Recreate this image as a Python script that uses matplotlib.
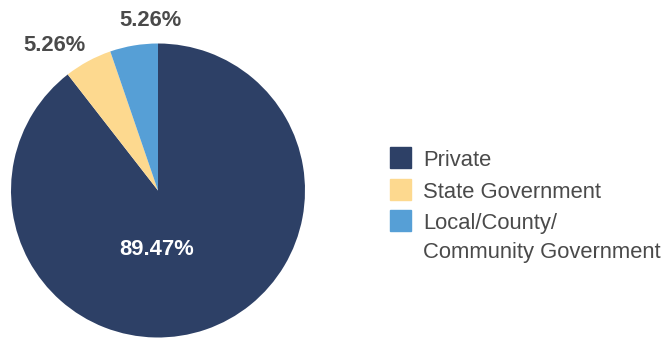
import numpy as np
import matplotlib.pyplot as plt
from matplotlib.patches import Rectangle

plt.rcParams['font.family'] = ['Liberation Sans', 'DejaVu Sans']

# ownership share of facilities
categories = ["Private", "State Government", "Local/County/\nCommunity Government"]
shares = [89.47, 5.26, 5.26]
colors = ["#2d4066", "#fdd98f", "#569fd6"]
text_gray = "#4a4a4a"

fig = plt.figure(figsize=(6.66, 3.39), dpi=100)
ax = fig.add_axes([11 / 666, (339 - 190.5 - 147) / 339, 294 / 666, 294 / 339])

wedges, _ = ax.pie(shares, colors=colors, startangle=90, counterclock=False,
                   radius=1.0, wedgeprops=dict(linewidth=0))
ax.set_xlim(-1, 1)
ax.set_ylim(-1, 1)
ax.set_aspect("equal")
ax.axis("off")

# label placement (angle in degrees, distance from centre) for each slice
label_pos = [(269.0, 0.40), (125.6, 1.21), (92.4, 1.155)]
label_col = ["white", text_gray, text_gray]
for val, (ang, dist), col in zip(shares, label_pos, label_col):
    a = np.deg2rad(ang)
    ax.text(dist * np.cos(a), dist * np.sin(a), f"{val:.2f}%",
            ha="center", va="center", fontsize=15.8, fontweight="bold",
            color=col, clip_on=False)

# legend drawn by hand so the swatch sits next to the first text line
sw_x, sw_size, txt_x = 390, 21, 423
rows_top = [147, 179, 210]
for cat, col, top in zip(categories, colors, rows_top):
    fig.patches.append(Rectangle((sw_x / 666, 1 - (top + sw_size) / 339),
                                 sw_size / 666, sw_size / 339,
                                 transform=fig.transFigure, color=col))
    lines = cat.split("\n")
    for i, line in enumerate(lines):
        base = top + 19 + i * 29
        fig.text(txt_x / 666, 1 - base / 339, line, fontsize=15.8,
                 color=text_gray, ha="left", va="baseline")

fig.savefig("out.png", dpi=100)
